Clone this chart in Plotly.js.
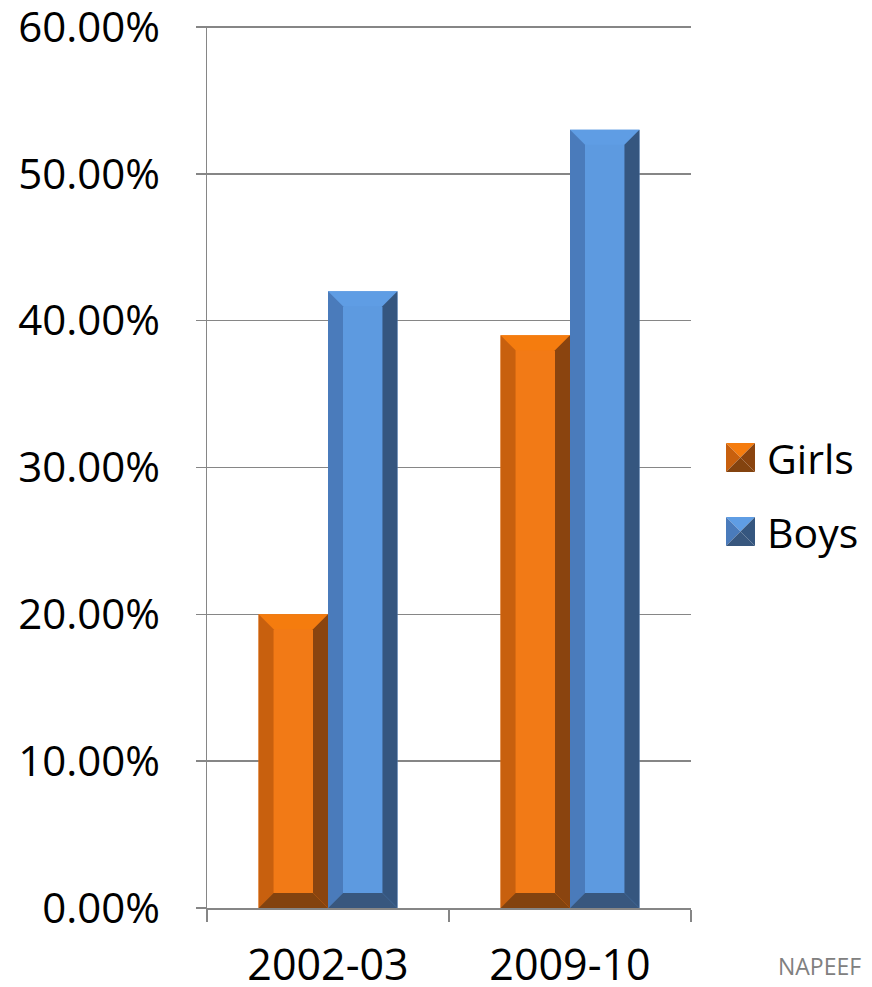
<!DOCTYPE html>
<html>
<head>
<meta charset="utf-8">
<script src="https://cdn.plot.ly/plotly-3.0.1.min.js"></script>
<style>html,body{margin:0;padding:0;background:#fff;}#chart{width:872px;height:987px;}</style>
</head>
<body>
<div id="chart"></div>
<script>
// ---- data ----
const categories = ["2002-03", "2009-10"];
const girls = [0.20, 0.39];
const boys = [0.42, 0.53];
const seriesNames = ["Girls", "Boys"];
const yTickStep = 0.1;
const yMax = 0.6;
const sourceText = "NAPEEF";

// ---- styles ----
const FONT = "Open Sans, Liberation Sans, sans-serif";
const pal = {
  Girls: {center: "#F27A16", top: "#F57C0E", left: "#C8600E", right: "#8A440F", bottom: "#83430F"},
  Boys:  {center: "#5D9AE0", top: "#5F9DE4", left: "#4A7BBB", right: "#35567F", bottom: "#38577E"}
};
const W = 872, H = 987;
const M = {l: 207, r: 181, t: 26, b: 79};
const plotW = W - M.l - M.r, plotH = H - M.t - M.b;
const xRange = [-0.5, 1.5], yRange = [0, yMax + 0.0007];
const barW = 0.287;
const bevelPx = 15;
const dx = bevelPx * (xRange[1] - xRange[0]) / plotW;
const dy = bevelPx * (yRange[1] - yRange[0]) / plotH;

const series = [
  {name: seriesNames[0], vals: girls, offset: -barW},
  {name: seriesNames[1], vals: boys, offset: 0}
];

const traces = series.map(s => ({
  type: "bar", x: categories, y: s.vals, name: s.name,
  width: barW, offset: s.offset,
  marker: {color: pal[s.name].center, line: {width: 0}},
  showlegend: false, hoverinfo: "skip", cliponaxis: false
}));

const shapes = [];
function poly(pts, color, xref, yref) {
  const d = "M" + pts.map(p => p[0] + "," + p[1]).join(" L") + " Z";
  shapes.push({type: "path", path: d, xref: xref || "x", yref: yref || "y",
    fillcolor: color, line: {width: 0}, layer: "above"});
}
series.forEach(s => {
  s.vals.forEach((v, i) => {
    const x0 = i + s.offset, x1 = x0 + barW;
    const y0 = 0, y1 = v;
    const c = pal[s.name];
    poly([[x0, y1], [x1, y1], [x1 - dx, y1 - dy], [x0 + dx, y1 - dy]], c.top);
    poly([[x0, y0], [x0, y1], [x0 + dx, y1 - dy], [x0 + dx, y0 + dy]], c.left);
    poly([[x1, y0], [x1, y1], [x1 - dx, y1 - dy], [x1 - dx, y0 + dy]], c.right);
    poly([[x0, y0], [x1, y0], [x1 - dx, y0 + dy], [x0 + dx, y0 + dy]], c.bottom);
  });
});

// legend (paper coords from pixel positions)
const px2x = px => (px - M.l) / plotW;
const py2y = py => (H - M.b - py) / plotH;
const annotations = [];
const legendRows = [{name: seriesNames[0], cy: 457.5}, {name: seriesNames[1], cy: 531.5}];
legendRows.forEach(r => {
  const c = pal[r.name];
  const a = px2x(726), b = px2x(755), t = py2y(r.cy - 14.5), bt = py2y(r.cy + 14.5);
  const mx = (a + b) / 2, my = (t + bt) / 2;
  poly([[a, t], [b, t], [mx, my]], c.top, "paper", "paper");
  poly([[a, t], [a, bt], [mx, my]], c.left, "paper", "paper");
  poly([[b, t], [b, bt], [mx, my]], c.right, "paper", "paper");
  poly([[a, bt], [b, bt], [mx, my]], c.bottom, "paper", "paper");
  annotations.push({text: r.name, x: px2x(765), y: py2y(r.cy), xref: "paper", yref: "paper",
    xanchor: "left", yanchor: "middle", showarrow: false,
    font: {family: FONT, size: 41, color: "#000"}});
});
annotations.push({text: sourceText, x: px2x(863), y: py2y(966), xref: "paper", yref: "paper",
  xanchor: "right", yanchor: "middle", showarrow: false,
  font: {family: FONT, size: 23, color: "#808080"}});

const layout = {
  width: W, height: H,
  margin: M,
  paper_bgcolor: "#fff", plot_bgcolor: "#fff",
  barmode: "overlay",
  showlegend: false,
  font: {family: FONT, color: "#000"},
  xaxis: {
    type: "category", range: xRange, fixedrange: true,
    showline: true, linecolor: "#868686", linewidth: 1.5,
    ticks: "outside", tickson: "boundaries", ticklen: 12, tickcolor: "#868686", tickwidth: 1.5,
    showgrid: false, zeroline: false,
    tickfont: {family: FONT, size: 43, color: "#000"},
    ticklabelstandoff: 19, ticklabeloverflow: "allow", automargin: false
  },
  yaxis: {
    range: yRange, tickmode: "linear", tick0: 0, dtick: yTickStep, tickformat: ".2%",
    showline: true, linecolor: "#868686", linewidth: 1.5,
    ticks: "outside", ticklen: 10, tickcolor: "#868686", tickwidth: 1.5,
    showgrid: true, gridcolor: "#868686", gridwidth: 1.5, zeroline: false,
    tickfont: {family: FONT, size: 42, color: "#000"},
    ticklabelstandoff: 27, ticklabeloverflow: "allow", automargin: false
  },
  shapes: shapes,
  annotations: annotations
};

Plotly.newPlot("chart", traces, layout, {displayModeBar: false, staticPlot: true});
</script>
</body>
</html>
